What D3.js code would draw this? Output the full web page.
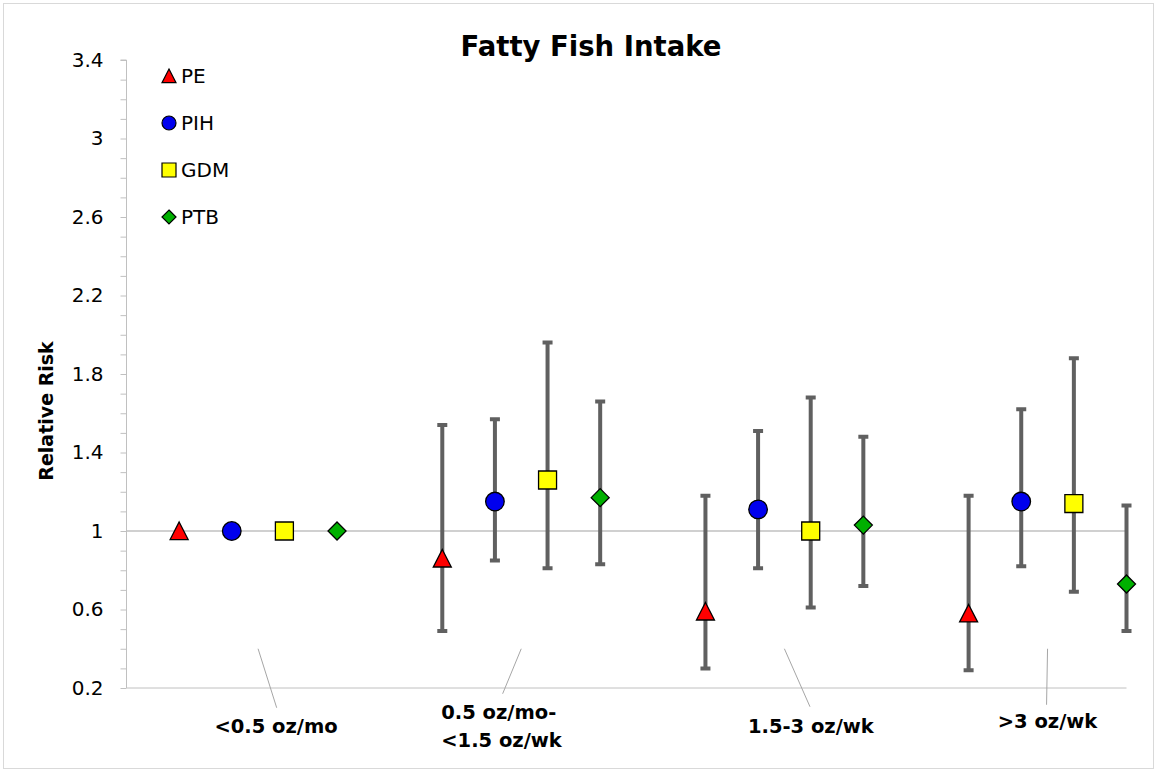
<!DOCTYPE html>
<html>
<head>
<meta charset="utf-8">
<script src="https://cdn.jsdelivr.net/npm/d3@7"></script>
<style>
  body { margin: 0; background: #fff; }
  svg { display: block; }
</style>
</head>
<body>
<div></div>
<script>
const width = 1155, height = 772
const svg = d3.select("div")
    .append("svg")
    .attr("xmlns", "http://www.w3.org/2000/svg")
    .attr("width", width)
    .attr("height", height)

// data
const categories = [["<0.5 oz/mo"], ["0.5 oz/mo-", "<1.5 oz/wk"], ["1.5-3 oz/wk"], [">3 oz/wk"]]
const outcomes = ["PE", "PIH", "GDM", "PTB"]
const peX = [1, 6, 11, 16]
const pihX = [2, 7, 12, 17]
const gdmX = [3, 8, 13, 18]
const ptbX = [4, 9, 14, 19]
const peRR = [1, 0.86, 0.59, 0.58]
const peLow = [null, 0.49, 0.30, 0.29]
const peHigh = [null, 1.54, 1.18, 1.18]
const pihRR = [1, 1.15, 1.11, 1.15]
const pihLow = [null, 0.85, 0.81, 0.82]
const pihHigh = [null, 1.57, 1.51, 1.62]
const gdmRR = [1, 1.26, 1.00, 1.14]
const gdmLow = [null, 0.81, 0.61, 0.69]
const gdmHigh = [null, 1.96, 1.68, 1.88]
const ptbRR = [1, 1.17, 1.03, 0.73]
const ptbLow = [null, 0.83, 0.72, 0.49]
const ptbHigh = [null, 1.66, 1.48, 1.13]
// hidden label series (category labels hang off these points)
const labelX = [2.5, 7.5, 12.5, 17.5]
const labelY = [0.4, 0.4, 0.4, 0.4]
const yTicks = [0.2, 0.6, 1, 1.4, 1.8, 2.2, 2.6, 3, 3.4]

// settings
const font = "'DejaVu Sans', Verdana, sans-serif"
const axisColor = "#c0c0c0"
const barColor = "#606060"
const markerFill = {"PE": "#ff0000", "PIH": "#0000ee", "GDM": "#ffff00", "PTB": "#00b000"}
// label placement relative to its hidden point: leader end + text anchor (px)
const labelLayout = [
	{lx: 18.6, ly: 59, tx: 18, ty: 84, anchor: "middle"},
	{lx: -18.6, ly: 45, tx: -80, ty: 70, anchor: "start"},
	{lx: 25.6, ly: 58, tx: 26.5, ty: 84, anchor: "middle"},
	{lx: -1, ly: 56, tx: 0, ty: 79, anchor: "middle"}
]

// scales
const x = d3.scaleLinear().domain([0, 19]).range([126.5, 1126.5])
const y = d3.scaleLinear().domain([0.2, 3.4]).range([688, 60])

// chart border
svg.append("rect")
	.attr("x", 3.5).attr("y", 3.5)
	.attr("width", 1150).attr("height", 765)
	.attr("fill", "none")
	.attr("stroke", "#d9d9d9")

// title
svg.append("text")
	.attr("x", 591).attr("y", 56)
	.attr("text-anchor", "middle")
	.attr("font-family", font)
	.attr("font-size", 27.5)
	.attr("font-weight", "bold")
	.text("Fatty Fish Intake")

// y axis (minor ticks every 0.1)
const yAxis = d3.axisLeft(y)
	.tickValues(d3.range(2, 35).map(d => d / 10))
	.tickSize(6)
	.tickFormat(d => yTicks.some(t => Math.abs(t - d) < 1e-9) ? d3.format("~g")(d) : "")
svg.append("g")
	.attr("transform", `translate(${x(0)},0)`)
	.call(yAxis)
	.call(g => g.select(".domain").attr("stroke", axisColor).attr("d", `M-6,${y(3.4)}H0V${y(0.2)}`))
	.call(g => g.selectAll(".tick line").attr("stroke", axisColor))
	.call(g => g.selectAll(".tick text")
		.attr("x", -23)
		.attr("fill", "#000")
		.attr("font-family", font)
		.attr("font-size", 20))

// x axis line
svg.append("line")
	.attr("x1", x(0)).attr("x2", x(19))
	.attr("y1", y(0.2)).attr("y2", y(0.2))
	.attr("stroke", axisColor)

// reference line at RR = 1
svg.append("line")
	.attr("x1", x(0)).attr("x2", x(19))
	.attr("y1", y(1)).attr("y2", y(1))
	.attr("stroke", axisColor)
	.attr("stroke-width", 1.5)

// y title
svg.append("text")
	.attr("transform", `translate(53,411) rotate(-90)`)
	.attr("text-anchor", "middle")
	.attr("font-family", font)
	.attr("font-size", 19)
	.attr("font-weight", "bold")
	.text("Relative Risk")

// marker shapes, bbox centered on point
function markerPath(type, s) {
	const h = s / 2
	if (type == "PE") return `M0,${-h}L${h},${h * 0.95}L${-h},${h * 0.95}Z`
	if (type == "PIH") return `M${h},0A${h},${h} 0 1,1 ${-h},0A${h},${h} 0 1,1 ${h},0Z`
	if (type == "GDM") return `M${-h},${-h}H${h}V${h}H${-h}Z`
	return `M0,${-h}L${h},0L0,${h}L${-h},0Z`
}

const series = [
	{name: "PE", xs: peX, rr: peRR, lo: peLow, hi: peHigh},
	{name: "PIH", xs: pihX, rr: pihRR, lo: pihLow, hi: pihHigh},
	{name: "GDM", xs: gdmX, rr: gdmRR, lo: gdmLow, hi: gdmHigh},
	{name: "PTB", xs: ptbX, rr: ptbRR, lo: ptbLow, hi: ptbHigh}
]

series.forEach(s => {
	const pts = s.xs.map((xv, i) => ({x: xv, rr: s.rr[i], lo: s.lo[i], hi: s.hi[i]}))
	const bars = pts.filter(d => d.lo != null)
	const g = svg.append("g")
	// error bars
	g.selectAll().data(bars).enter().append("path")
		.attr("d", d => `M${x(d.x)},${y(d.lo)}V${y(d.hi)}M${x(d.x) - 5},${y(d.hi)}H${x(d.x) + 5}M${x(d.x) - 5},${y(d.lo)}H${x(d.x) + 5}`)
		.attr("fill", "none")
		.attr("stroke", barColor)
		.attr("stroke-width", 4)
	// markers
	g.selectAll().data(pts).enter().append("path")
		.attr("d", markerPath(s.name, s.name == "PIH" ? 18.6 : 18))
		.attr("transform", d => `translate(${x(d.x)},${y(d.rr)})`)
		.attr("fill", markerFill[s.name])
		.attr("stroke", "#000")
		.attr("stroke-width", 1.3)
})

// category labels with leader lines
const labels = labelX.map((lx, i) => ({x: lx, y: labelY[i], text: categories[i], lay: labelLayout[i]}))
svg.selectAll().data(labels).enter().append("line")
	.attr("x1", d => x(d.x)).attr("y1", d => y(d.y))
	.attr("x2", d => x(d.x) + d.lay.lx).attr("y2", d => y(d.y) + d.lay.ly)
	.attr("stroke", "#a6a6a6")
	.attr("stroke-width", 1)
svg.selectAll().data(labels).enter().append("text")
	.attr("x", d => x(d.x) + d.lay.tx)
	.attr("y", d => y(d.y) + d.lay.ty)
	.attr("text-anchor", d => d.lay.anchor)
	.attr("font-family", font)
	.attr("font-size", 19.5)
	.attr("font-weight", "bold")
	.each(function(d) {
		d3.select(this).selectAll("tspan").data(d.text).enter().append("tspan")
			.attr("x", x(d.x) + d.lay.tx)
			.attr("dy", (t, i) => i == 0 ? 0 : 28)
			.text(t => t)
	})

// legend
const legend = svg.append("g")
	.selectAll("g").data(outcomes).enter().append("g")
	.attr("transform", (d, i) => `translate(169,${76 + i * 47})`)
legend.append("path")
	.attr("d", d => markerPath(d, 14))
	.attr("fill", d => markerFill[d])
	.attr("stroke", "#000")
	.attr("stroke-width", 1.2)
legend.append("text")
	.attr("x", 12)
	.attr("dy", "0.36em")
	.attr("font-family", font)
	.attr("font-size", 20)
	.text(d => d)
</script>
</body>
</html>
